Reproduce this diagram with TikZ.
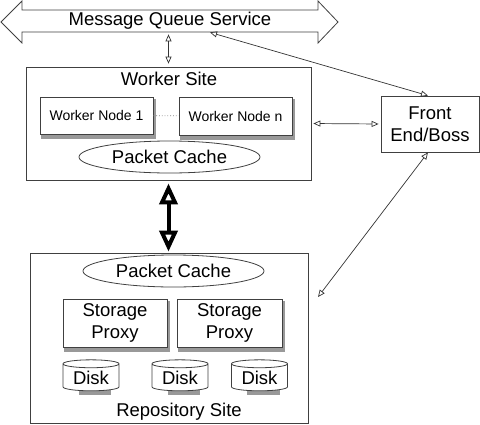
\documentclass[tikz,border=0pt]{standalone}
\usepackage{fontspec}
\setmainfont{Liberation Sans}
\usetikzlibrary{arrows.meta,shapes.geometric,backgrounds}

\begin{document}
\begin{tikzpicture}[x=1pt,y=-1pt,line width=0.8pt,
		every node/.style={font=\fontsize{18.5}{22.5}\selectfont,align=center,inner sep=0pt},
		site/.style={draw=black!75},
		box/.style={draw=black!75,fill=white},
		cache/.style={draw=black!75,ellipse,minimum width=181pt,minimum height=32pt},
		disk/.style={box,cylinder,shape border rotate=90,aspect=0.22,minimum width=56pt,minimum height=31pt},
		boxshadow/.style={fill=black!40},
		>={Triangle[open,length=7pt,width=6pt]},
		link/.style={<->,draw=black!80,line width=0.7pt},
		biglink/.style={{Triangle[open,length=21pt,width=18pt]}-{Triangle[open,length=21pt,width=18pt]},line width=4pt}]
		\useasboundingbox (0,0) rectangle (480,424);
		% message queue banner
		\draw[box] (22,10) -- (318,10) -- (318,1) -- (338,22) -- (318,43) -- (318,32) -- (22,32) -- (22,43) -- (1,22) -- (22,1) -- cycle;
		\node (mq) [minimum width=296pt,minimum height=22pt] at (170,21) {Message Queue Service};
		% worker site
		\node (ws) [site,minimum width=285pt,minimum height=113pt] at (168.5,123.5) {};
		\node (wslabel) at (169,79) {Worker Site};
		\node (wn1) [box,minimum width=113pt,minimum height=37pt,font=\fontsize{14}{16}\selectfont] at (96.5,115.5) {Worker Node 1};
		\node (wnn) [box,minimum width=113pt,minimum height=38pt,font=\fontsize{14}{16}\selectfont] at (235.5,116) {Worker Node n};
		\draw[dotted,black!50] (wn1) -- (wnn);
		\node (wcache) [cache] at (169.5,157) {Packet Cache};
		% front end
		\node (front) [box,minimum width=98pt,minimum height=56pt] at (430,124) {Front\\End/Boss};
		% repository site
		\node (repo) [site,minimum width=278pt,minimum height=170pt] at (169,338) {};
		\node (rcache) [cache] at (173.5,271) {Packet Cache};
		\node (sp1) [box,minimum width=104pt,minimum height=48pt] at (115,323) {Storage\\Proxy};
		\node (sp2) [box,minimum width=105pt,minimum height=48pt] at (229.5,323) {Storage\\Proxy};
		\node (disk1) [disk] at (91,377.5) {Disk};
		\node (disk2) [disk] at (180,377.5) {Disk};
		\node (disk3) [disk] at (259.5,377.5) {Disk};
		\node (repolabel) at (179,412) {Repository Site};
		\coordinate (repoin) at (318,297);
		% shadows
		\begin{scope}[on background layer]
			\foreach \n in {wn1,wnn,sp1,sp2,disk1,disk2,disk3}
				\fill[boxshadow] ([xshift=1pt,yshift=-4.5pt]\n.south west) rectangle ([xshift=3pt,yshift=-2pt]\n.north east);
		\end{scope}
		% connectors
		\draw[link,shorten <=2pt,shorten >=3pt] (ws.north |- mq.south) -- (ws.north);
		\draw[link] ([xshift=40pt]mq.south) -- ([xshift=-2pt]front.north);
		\draw[link,shorten <=2pt,shorten >=2pt] (ws.east) -- (front.west);
		\draw[link] ([xshift=-2pt]front.south) -- (repoin);
		\draw[biglink,shorten <=3pt,shorten >=1pt] (ws.south) -- (ws.south |- repo.north);
	\end{tikzpicture}
\end{document}
